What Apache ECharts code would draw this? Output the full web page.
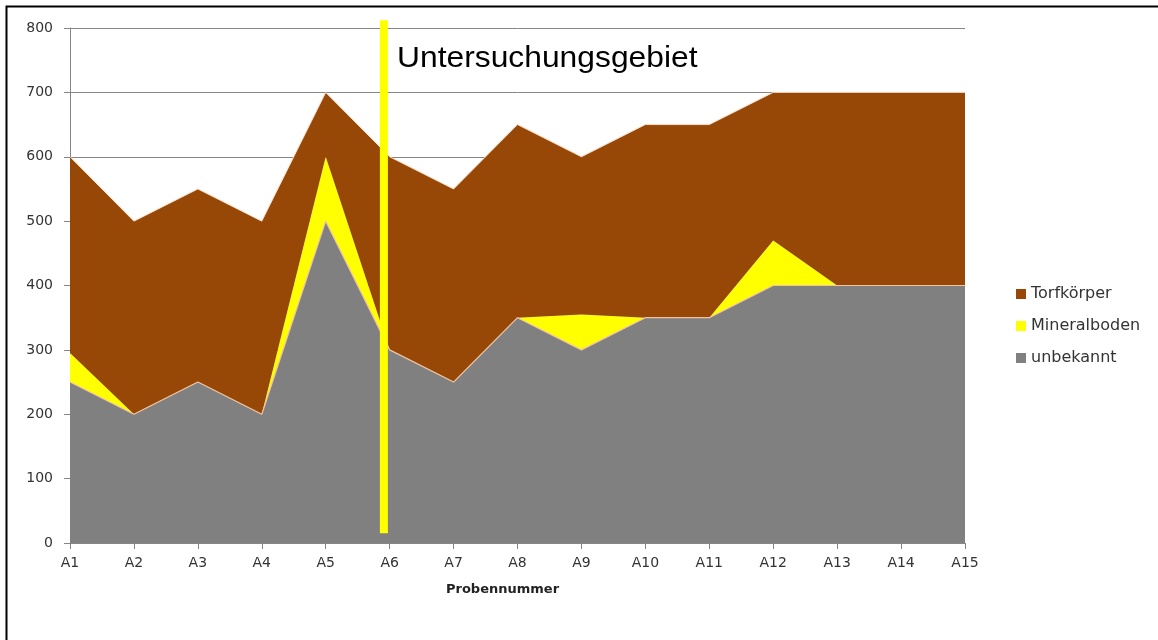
<!DOCTYPE html>
<html>
<head>
<meta charset="utf-8">
<script src="https://cdn.jsdelivr.net/npm/echarts@6/dist/echarts.min.js"></script>
<style>
  html, body { margin: 0; padding: 0; background: #fff; }
  #chart { width: 1158px; height: 640px; }
</style>
</head>
<body>
<div id="chart"></div>
<script>
// Probennummer
const categories = ['A1', 'A2', 'A3', 'A4', 'A5', 'A6', 'A7', 'A8', 'A9', 'A10', 'A11', 'A12', 'A13', 'A14', 'A15'];
// stacked layers (bottom to top)
const unbekannt    = [250, 200, 250, 200, 500, 300, 250, 350, 300, 350, 350, 400, 400, 400, 400];
const mineralboden = [45, 0, 0, 0, 100, 0, 0, 0, 55, 0, 0, 70, 0, 0, 0];
const torfkoerper  = [305, 300, 300, 300, 100, 300, 300, 300, 245, 300, 300, 230, 300, 300, 300];
// boundary of the study area (category position, value range)
const gebietLinie = [[4.91, 15], [4.91, 812]];

const font = '"DejaVu Sans", "Noto Sans", sans-serif';
const chart = echarts.init(document.getElementById('chart'));

chart.setOption({
  animation: false,
  backgroundColor: '#fff',
  grid: { left: 70, right: 193, top: 28, bottom: 97, containLabel: false },
  legend: {
    orient: 'vertical',
    left: 1011,
    top: 281,
    itemWidth: 10,
    itemHeight: 10,
    itemGap: 16,
    icon: 'rect',
    data: ['Torfkörper', 'Mineralboden', 'unbekannt'],
    textStyle: { fontFamily: font, fontSize: 16, color: '#333' }
  },
  xAxis: [
    {
      type: 'category',
      data: categories,
      boundaryGap: false,
      name: 'Probennummer',
      nameLocation: 'middle',
      nameGap: 40,
      nameTextStyle: { fontFamily: font, fontSize: 13, fontWeight: 'bold', color: '#222', padding: [0, 30, 0, 0] },
      axisLine: { lineStyle: { color: '#868686' } },
      axisTick: { length: 6, lineStyle: { color: '#868686' } },
      axisLabel: { fontFamily: font, fontSize: 14, color: '#333', margin: 13 }
    },
    { type: 'value', min: 0, max: 14, show: false }
  ],
  yAxis: {
    type: 'value',
    min: 0,
    max: 800,
    interval: 100,
    axisLine: { show: true, lineStyle: { color: '#868686' } },
    axisTick: { show: true, length: 6, lineStyle: { color: '#868686' } },
    axisLabel: { fontFamily: font, fontSize: 14, color: '#333', margin: 17 },
    splitLine: { lineStyle: { color: '#868686', width: 1 } }
  },
  series: [
    {
      name: 'unbekannt',
      type: 'line',
      stack: 'total',
      data: unbekannt,
      symbol: 'none',
      z: 4,
      itemStyle: { color: '#808080' },
      lineStyle: { color: '#f0c4a0', width: 1.2 },
      areaStyle: { color: '#808080', opacity: 1 }
    },
    {
      name: 'Mineralboden',
      type: 'line',
      stack: 'total',
      data: mineralboden,
      symbol: 'none',
      itemStyle: { color: '#ffff00' },
      lineStyle: { color: '#ffff00', width: 0 },
      areaStyle: { color: '#ffff00', opacity: 1 }
    },
    {
      name: 'Torfkörper',
      type: 'line',
      stack: 'total',
      data: torfkoerper,
      symbol: 'none',
      itemStyle: { color: '#984806' },
      lineStyle: { color: '#f6dcc6', width: 1 },
      areaStyle: { color: '#984806', opacity: 1 }
    },
    {
      name: 'Untersuchungsgebiet',
      type: 'line',
      xAxisIndex: 1,
      data: gebietLinie,
      symbol: 'none',
      clip: false,
      z: 10,
      silent: true,
      lineStyle: { color: '#ffff00', width: 8, cap: 'butt' }
    }
  ],
  graphic: [
    {
      type: 'rect',
      shape: { x: 6.5, y: 6.5, width: 1200, height: 700 },
      style: { fill: 'none', stroke: '#000', lineWidth: 2 },
      silent: true
    },
    {
      type: 'text',
      x: 397,
      y: 44,
      scaleX: 1.06,
      z: 20,
      style: {
        text: 'Untersuchungsgebiet',
        font: '30px "Liberation Sans", Arial, sans-serif',
        fill: '#000'
      }
    }
  ]
});
</script>
</body>
</html>
